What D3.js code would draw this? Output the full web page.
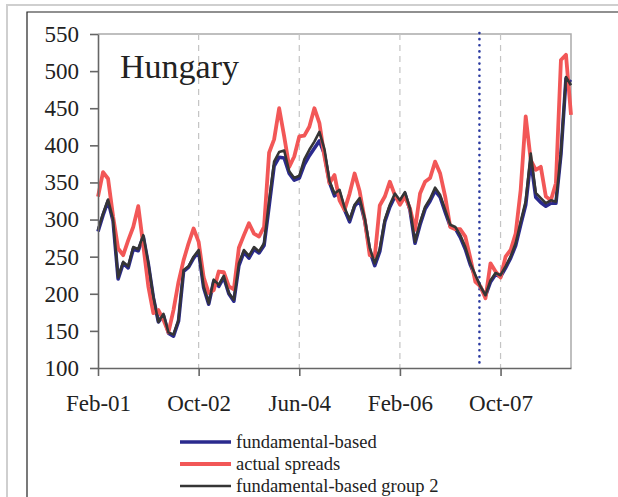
<!DOCTYPE html>
<html lang="en">
<head>
  <meta charset="UTF-8">
  <title>Hungary spreads</title>
  <script src="https://d3js.org/d3.v7.min.js"></script>
  <style>
    body {
      margin: 0;
      background: #fff;
    }
    svg text {
      font-family: "Liberation Serif", "Times New Roman", serif;
      fill: #222;
    }
    .axis path, .axis line {
      stroke: #666;
      stroke-width: 1.6px;
    }
    .axis text {
      font-size: 23px;
    }
    .grid {
      stroke: #c4c4c4;
      stroke-width: 1.2px;
      stroke-dasharray: 6,5;
    }
    .legend text {
      font-size: 18.5px;
    }
  </style>
</head>
<body>
  <div id="chart"></div>

  <script>
    // monthly, Feb-01 .. Dec-08
    const months = d3.timeMonth.range(new Date(2001, 1, 1), new Date(2009, 0, 1)).map(d3.timeFormat("%b-%y"));
    const xTickLabels = ["Feb-01", "Oct-02", "Jun-04", "Feb-06", "Oct-07"];
    const yTicks = [100, 150, 200, 250, 300, 350, 400, 450, 500, 550];
    const forecastMonth = "Jun-07";

    const fundamental = [284, 306, 325, 298, 220, 241, 235, 260, 258, 277, 240, 195, 162, 171, 147, 143, 163, 230, 236, 248,
      257, 208, 186, 217, 210, 222, 200, 190, 238, 256, 248, 260, 255, 265, 318, 372, 384, 383, 362, 353,
      356, 374, 386, 396, 406, 388, 350, 332, 336, 313, 297, 318, 326, 299, 258, 238, 257, 297, 317, 331,
      324, 335, 313, 268, 293, 314, 325, 339, 330, 310, 291, 288, 276, 260, 239, 223, 209, 197, 216, 226,
      223, 235, 248, 265, 293, 320, 380, 330, 323, 318, 322, 322, 388, 490, 485];

    const actual = [331, 364, 355, 304, 261, 252, 272, 290, 318, 265, 210, 174, 178, 165, 148, 178, 216, 245, 268, 288,
      270, 222, 201, 205, 230, 229, 210, 206, 262, 279, 295, 281, 277, 290, 390, 408, 450, 412, 371, 385,
      412, 413, 425, 450, 430, 385, 349, 360, 326, 313, 335, 362, 338, 300, 252, 250, 319, 331, 351, 333,
      320, 331, 315, 286, 335, 351, 356, 378, 362, 331, 290, 287, 287, 277, 248, 216, 210, 194, 241, 230,
      222, 250, 259, 281, 340, 439, 380, 367, 371, 331, 326, 349, 515, 522, 441];

    const group2 = [286, 308, 327, 300, 222, 243, 237, 263, 260, 279, 241, 196, 162, 173, 148, 145, 165, 232, 237, 250,
      259, 210, 187, 219, 212, 224, 201, 192, 241, 259, 251, 263, 257, 268, 325, 378, 391, 393, 365, 356,
      359, 381, 394, 405, 418, 395, 352, 335, 340, 316, 300, 320, 329, 302, 262, 241, 260, 300, 320, 335,
      326, 337, 315, 270, 296, 317, 328, 343, 333, 313, 293, 290, 279, 263, 241, 225, 210, 198, 218, 228,
      225, 237, 250, 268, 297, 325, 389, 336, 329, 322, 326, 324, 390, 492, 481];

    const series = [
      { name: "fundamental-based", values: fundamental, color: "#2b2a8e", width: 3.6 },
      { name: "actual spreads", values: actual, color: "#f25757", width: 3.8 },
      { name: "fundamental-based group 2", values: group2, color: "#353535", width: 2.6 }
    ];

    const width = 618, height = 497;
    const plot = { left: 98, right: 571, top: 34, bottom: 368 };

    const svg = d3.select("#chart").append("svg")
      .attr("width", width)
      .attr("height", height);

    // page frames
    svg.append("path").attr("d", "M7,497 V5 H618")
      .attr("fill", "none").attr("stroke", "#cfcfcf").attr("stroke-width", 2);
    svg.append("path").attr("d", "M27,497 V12 H618")
      .attr("fill", "none").attr("stroke", "#222").attr("stroke-width", 1.2);

    const x = d3.scalePoint().domain(months).range([plot.left, plot.right]);
    const y = d3.scaleLinear().domain([100, 550]).range([plot.bottom, plot.top]);

    // plot border (top and right)
    svg.append("path")
      .attr("d", `M${plot.left},${plot.top} H${plot.right} V${plot.bottom}`)
      .attr("fill", "none").attr("stroke", "#aaa").attr("stroke-width", 1.5);

    svg.selectAll(".grid")
      .data(xTickLabels.slice(1))
      .enter().append("line")
      .attr("class", "grid")
      .attr("x1", d => x(d)).attr("x2", d => x(d))
      .attr("y1", plot.top).attr("y2", plot.bottom);

    svg.append("line")
      .attr("x1", x(forecastMonth) - 1).attr("x2", x(forecastMonth) - 1)
      .attr("y1", 33).attr("y2", 363)
      .attr("stroke", "#2b3aa0")
      .attr("stroke-width", 2.6)
      .attr("stroke-linecap", "round")
      .attr("stroke-dasharray", "0.1,6");

    const line = d3.line()
      .x((d, i) => x(months[i]))
      .y(d => y(d));

    svg.selectAll(".series")
      .data(series)
      .enter().append("path")
      .attr("class", "series")
      .attr("d", d => line(d.values))
      .attr("fill", "none")
      .attr("stroke", d => d.color)
      .attr("stroke-width", d => d.width)
      .attr("stroke-linejoin", "round");

    const yAxis = svg.append("g")
      .attr("class", "axis")
      .attr("transform", `translate(${plot.left},0)`)
      .call(d3.axisLeft(y).tickValues(yTicks).tickSize(8).tickSizeOuter(0).tickPadding(11));

    const xAxis = svg.append("g")
      .attr("class", "axis")
      .attr("transform", `translate(0,${plot.bottom})`)
      .call(d3.axisBottom(x).tickValues(xTickLabels).tickSize(8).tickSizeOuter(0).tickPadding(19));

    svg.append("text")
      .attr("x", 120).attr("y", 78)
      .style("font-size", "34px")
      .text("Hungary");

    const legend = svg.append("g").attr("class", "legend")
      .selectAll("g")
      .data(series)
      .enter().append("g")
      .attr("transform", (d, i) => `translate(180,${[442, 464, 486][i]})`);

    legend.append("line")
      .attr("x1", 0).attr("x2", 51)
      .attr("stroke", d => d.color)
      .attr("stroke-width", d => d.width);

    legend.append("text")
      .attr("x", 56).attr("y", 6)
      .text(d => d.name);
  </script>
</body>
</html>
